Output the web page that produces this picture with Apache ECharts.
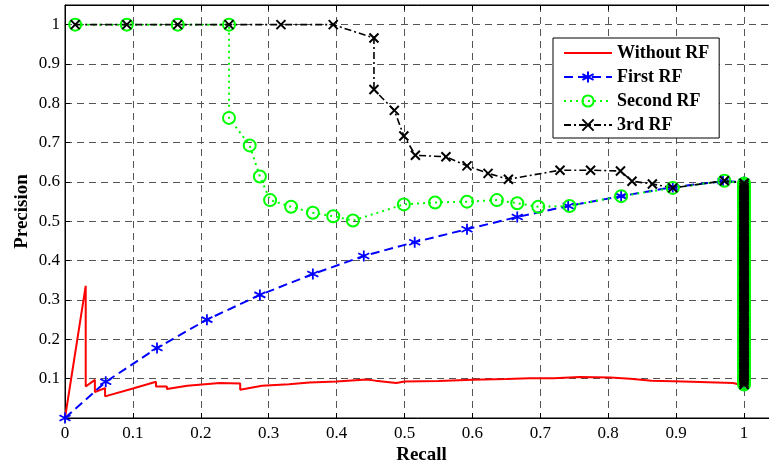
<!DOCTYPE html>
<html>
<head>
<meta charset="utf-8">
<script src="https://cdn.jsdelivr.net/npm/echarts@6/dist/echarts.min.js"></script>
<style>html,body{margin:0;padding:0;background:#fff;}#c{width:769px;height:467px;}</style>
</head>
<body>
<div id="c"></div>
<script>
// ---- data ----
var seriesNames = ['Without RF', 'First RF', 'Second RF', '3rd RF'];

var withoutRfRecall = [0, 0.0305, 0.0305, 0.044, 0.044, 0.059, 0.059, 0.10, 0.134, 0.134, 0.150, 0.150, 0.18, 0.228, 0.228, 0.258, 0.258, 0.29, 0.33, 0.36, 0.40, 0.444, 0.457, 0.488, 0.50, 0.55, 0.60, 0.65, 0.684, 0.72, 0.758, 0.803, 0.803, 0.832, 0.832, 0.864, 0.864, 0.91, 0.91, 0.984, 0.984, 1.0];
var withoutRfPrecision = [0, 0.336, 0.080, 0.097, 0.066, 0.076, 0.055, 0.075, 0.092, 0.080, 0.080, 0.074, 0.082, 0.089, 0.085, 0.088, 0.072, 0.082, 0.086, 0.090, 0.093, 0.098, 0.095, 0.089, 0.093, 0.094, 0.097, 0.099, 0.101, 0.101, 0.104, 0.103, 0.100, 0.100, 0.095, 0.095, 0.093, 0.093, 0.089, 0.089, 0.086, 0.082];

var firstRfRecall = [0, 0.060, 0.1355, 0.209, 0.287, 0.365, 0.440, 0.515, 0.592, 0.666, 0.741, 0.819, 0.895, 0.969, 1.0];
var firstRfPrecision = [0, 0.092, 0.178, 0.250, 0.313, 0.366, 0.412, 0.447, 0.480, 0.511, 0.539, 0.564, 0.587, 0.602, 0.600];

var secondRfRecall = [0.015, 0.091, 0.166, 0.2415, 0.2415, 0.272, 0.287, 0.302, 0.333, 0.365, 0.395, 0.424, 0.499, 0.545, 0.592, 0.636, 0.666, 0.697, 0.743, 0.819, 0.895, 0.971, 1.0];
var secondRfPrecision = [1, 1, 1, 1, 0.763, 0.693, 0.614, 0.554, 0.537, 0.522, 0.513, 0.502, 0.543, 0.548, 0.550, 0.554, 0.546, 0.537, 0.539, 0.564, 0.585, 0.603, 0.596];

var thirdRfRecall = [0.015, 0.091, 0.166, 0.2415, 0.318, 0.395, 0.455, 0.455, 0.485, 0.499, 0.516, 0.561, 0.592, 0.623, 0.653, 0.729, 0.774, 0.818, 0.835, 0.865, 0.895, 0.971, 1.0];
var thirdRfPrecision = [1, 1, 1, 1, 1, 1, 0.966, 0.835, 0.782, 0.717, 0.668, 0.664, 0.641, 0.622, 0.607, 0.630, 0.630, 0.628, 0.602, 0.595, 0.585, 0.603, 0.597];

// precision values stacked at recall = 1 (the thick column)
var tailPrecision = [0.592, 0.586, 0.581, 0.575, 0.569, 0.564, 0.558, 0.553, 0.547, 0.541,
  0.536, 0.530, 0.525, 0.519, 0.514, 0.508, 0.502, 0.497, 0.491, 0.486,
  0.480, 0.475, 0.469, 0.463, 0.458, 0.452, 0.447, 0.441, 0.436, 0.430,
  0.424, 0.419, 0.413, 0.408, 0.402, 0.397, 0.391, 0.385, 0.380, 0.374,
  0.369, 0.363, 0.358, 0.352, 0.346, 0.341, 0.335, 0.330, 0.324, 0.319,
  0.313, 0.307, 0.302, 0.296, 0.291, 0.285, 0.280, 0.274, 0.268, 0.263,
  0.257, 0.252, 0.246, 0.241, 0.235, 0.229, 0.224, 0.218, 0.213, 0.207,
  0.202, 0.196, 0.190, 0.185, 0.179, 0.174, 0.168, 0.163, 0.157, 0.151,
  0.146, 0.140, 0.135, 0.129, 0.124, 0.118, 0.112, 0.107, 0.101, 0.096, 0.090, 0.085];

var axisTicks = [0, 0.1, 0.2, 0.3, 0.4, 0.5, 0.6, 0.7, 0.8, 0.9, 1];

// ---- build ----
function zip(xs, ys) { return xs.map(function (x, i) { return [x, ys[i]]; }); }
function withTail(pts) { return pts.concat(tailPrecision.map(function (p) { return [1, p]; })); }

var serif = 'Liberation Serif, Times New Roman, serif';
function tickLabel(hideZero) {
  return function (v) {
    for (var i = 0; i < axisTicks.length; i++) {
      if (Math.abs(v - axisTicks[i]) < 1e-6) {
        if (hideZero && axisTicks[i] === 0) return '';
        return String(axisTicks[i]);
      }
    }
    return '';
  };
}

var asterisk = 'path://M0,-10L0,10M-8.66,-5L8.66,5M-8.66,5L8.66,-5';
var xmark = 'path://M-5,-5L5,5M-5,5L5,-5';
var gridLine = { show: true, showMinLine: false, showMaxLine: false, lineStyle: { color: '#555', width: 1, type: [7, 5] } };

var chart = echarts.init(document.getElementById('c'), null, { renderer: 'canvas' });
chart.setOption({
  animation: false,
  backgroundColor: '#fff',
  grid: { left: 65, width: 713, top: 5, bottom: 49, show: true, borderColor: '#000', borderWidth: 1, backgroundColor: '#fff', containLabel: false, outerBoundsMode: 'none' },
  legend: {
    orient: 'vertical', left: 553, top: 38,
    padding: [6, 10, 4, 10], itemGap: 6, itemWidth: 48, itemHeight: 14, itemTextGap: 6,
    backgroundColor: '#fff', borderColor: '#000', borderWidth: 1,
    textStyle: { fontFamily: serif, fontWeight: 'bold', fontSize: 18, color: '#000' },
    data: [{ name: seriesNames[0], itemStyle: { opacity: 0 } }, seriesNames[1], seriesNames[2], seriesNames[3]]
  },
  xAxis: [{
    type: 'value', min: 0, max: 1.05, interval: 0.1,
    name: 'Recall', nameLocation: 'middle', nameGap: 28, nameMoveOverlap: false,
    nameTextStyle: { fontFamily: serif, fontWeight: 'bold', fontSize: 19, color: '#000' },
    axisLine: { show: true, lineStyle: { color: '#000', width: 1 } },
    axisTick: { show: true, inside: true, length: 5, lineStyle: { color: '#000' } },
    axisLabel: { formatter: tickLabel(false), fontFamily: serif, fontSize: 17, color: '#000', margin: 7, showMaxLabel: false },
    splitLine: gridLine
  }, {
    type: 'value', min: 0, max: 1.05, interval: 0.1, position: 'top',
    axisLine: { show: true, lineStyle: { color: '#000', width: 1 } },
    axisTick: { show: true, inside: true, length: 5, lineStyle: { color: '#000' } },
    axisLabel: { show: false }, splitLine: { show: false }
  }],
  yAxis: {
    type: 'value', min: 0, max: 1.05, interval: 0.1,
    name: 'Precision', nameLocation: 'middle', nameGap: 33, nameMoveOverlap: false,
    nameTextStyle: { fontFamily: serif, fontWeight: 'bold', fontSize: 19, color: '#000' },
    axisLine: { show: true, lineStyle: { color: '#000', width: 1 } },
    axisTick: { show: true, inside: true, length: 5, lineStyle: { color: '#000' } },
    axisLabel: { formatter: tickLabel(true), fontFamily: serif, fontSize: 17, color: '#000', margin: 5, showMaxLabel: false },
    splitLine: gridLine
  },
  series: [{
    name: seriesNames[0], type: 'line', data: zip(withoutRfRecall, withoutRfPrecision),
    symbol: 'none', lineStyle: { color: '#ff0000', width: 2 }, itemStyle: { color: '#ff0000' },
    emphasis: { disabled: true }
  }, {
    name: seriesNames[1], type: 'line', data: withTail(zip(firstRfRecall, firstRfPrecision)),
    symbol: asterisk, symbolSize: 11, showAllSymbol: true,
    lineStyle: { color: '#0000ff', width: 2, type: [9, 5] },
    itemStyle: { color: '#0000ff', borderColor: '#0000ff', borderWidth: 1.8 },
    emphasis: { disabled: true }
  }, {
    name: seriesNames[2], type: 'line', data: withTail(zip(secondRfRecall, secondRfPrecision)),
    symbol: 'circle', symbolSize: 12, showAllSymbol: true,
    lineStyle: { color: '#00ff00', width: 2, type: [2, 4] },
    itemStyle: { color: 'rgba(0,0,0,0)', borderColor: '#00ff00', borderWidth: 2 },
    emphasis: { disabled: true }
  }, {
    name: seriesNames[3], type: 'line', data: withTail(zip(thirdRfRecall, thirdRfPrecision)),
    symbol: xmark, symbolSize: 9, showAllSymbol: true,
    lineStyle: { color: '#000000', width: 1.6, type: [7, 3, 2, 3] },
    itemStyle: { color: '#000000', borderColor: '#000000', borderWidth: 2 },
    emphasis: { disabled: true }
  }]
});
</script>
</body>
</html>
